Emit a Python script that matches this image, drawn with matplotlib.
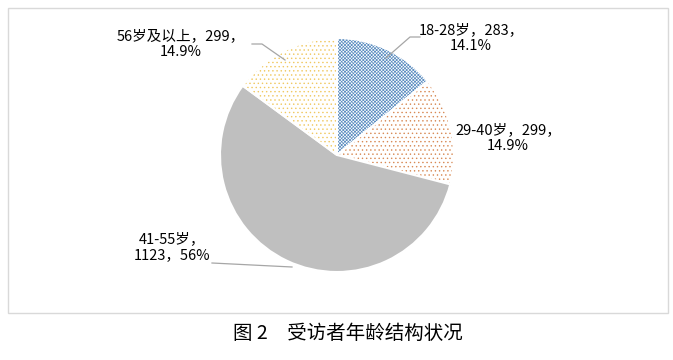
import matplotlib.pyplot as plt
from matplotlib.patches import Rectangle

plt.rcParams['font.family'] = ['Noto Sans CJK SC', 'DejaVu Sans']
plt.rcParams['hatch.linewidth'] = 0.5

labels = ['18-28岁', '29-40岁', '41-55岁', '56岁及以上']
counts = [283, 299, 1123, 299]
pcts = ['14.1%', '14.9%', '56%', '14.9%']
colors = ['#5b8dc0', '#d88a55', '#bfbfbf', '#f0c860']
hatches = ['xxxxxxxxxx', '....', None, '....']

fig = plt.figure(figsize=(6.73, 3.6), dpi=100)
ax = fig.add_axes([0, 0, 1, 1])

# frame of the chart area
ax.add_patch(Rectangle((8, 47), 660, 305, fill=False, edgecolor='#d9d9d9', lw=1))

wedges, _ = ax.pie(counts, center=(337, 205), radius=117, startangle=90,
                   counterclock=False, frame=True,
                   wedgeprops=dict(linewidth=1.5, edgecolor='white'))
for w, c, h in zip(wedges, colors, hatches):
    if h is None:
        w.set_facecolor(c)
    else:
        w.set_facecolor('white')
        w.set_hatch(h)
        w._hatch_color = (*[int(c[i:i + 2], 16) / 255 for i in (1, 3, 5)], 1.0)
ax.set_xlim(0, 673)
ax.set_ylim(0, 360)
ax.set_aspect('equal')
ax.axis('off')

line_kw = dict(color='#a6a6a6', lw=0.9)
fs = 10.5

# 18-28
ax.plot([386, 410, 420], [302, 323, 323], **line_kw)
ax.text(471, 322, f'{labels[0]}，{counts[0]}，\n{pcts[0]}', ha='center', va='center',
        fontsize=fs, linespacing=1.25)
# 29-40
ax.text(508, 222, f'{labels[1]}，{counts[1]}，\n{pcts[1]}', ha='center', va='center',
        fontsize=fs, linespacing=1.25)
# 41-55
ax.plot([212, 292], [97, 93], **line_kw)
ax.text(172, 113, f'{labels[2]}，\n{counts[2]}，{pcts[2]}', ha='center', va='center',
        fontsize=fs, linespacing=1.25)
# 56+
ax.plot([285, 262, 252], [300, 316, 316], **line_kw)
ax.text(181, 316, f'{labels[3]}，{counts[3]}，\n{pcts[3]}', ha='center', va='center',
        fontsize=fs, linespacing=1.25)

ax.text(348, 27, '图 2　受访者年龄结构状况', ha='center', va='center', fontsize=14)

fig.savefig('out.png', dpi=100)
